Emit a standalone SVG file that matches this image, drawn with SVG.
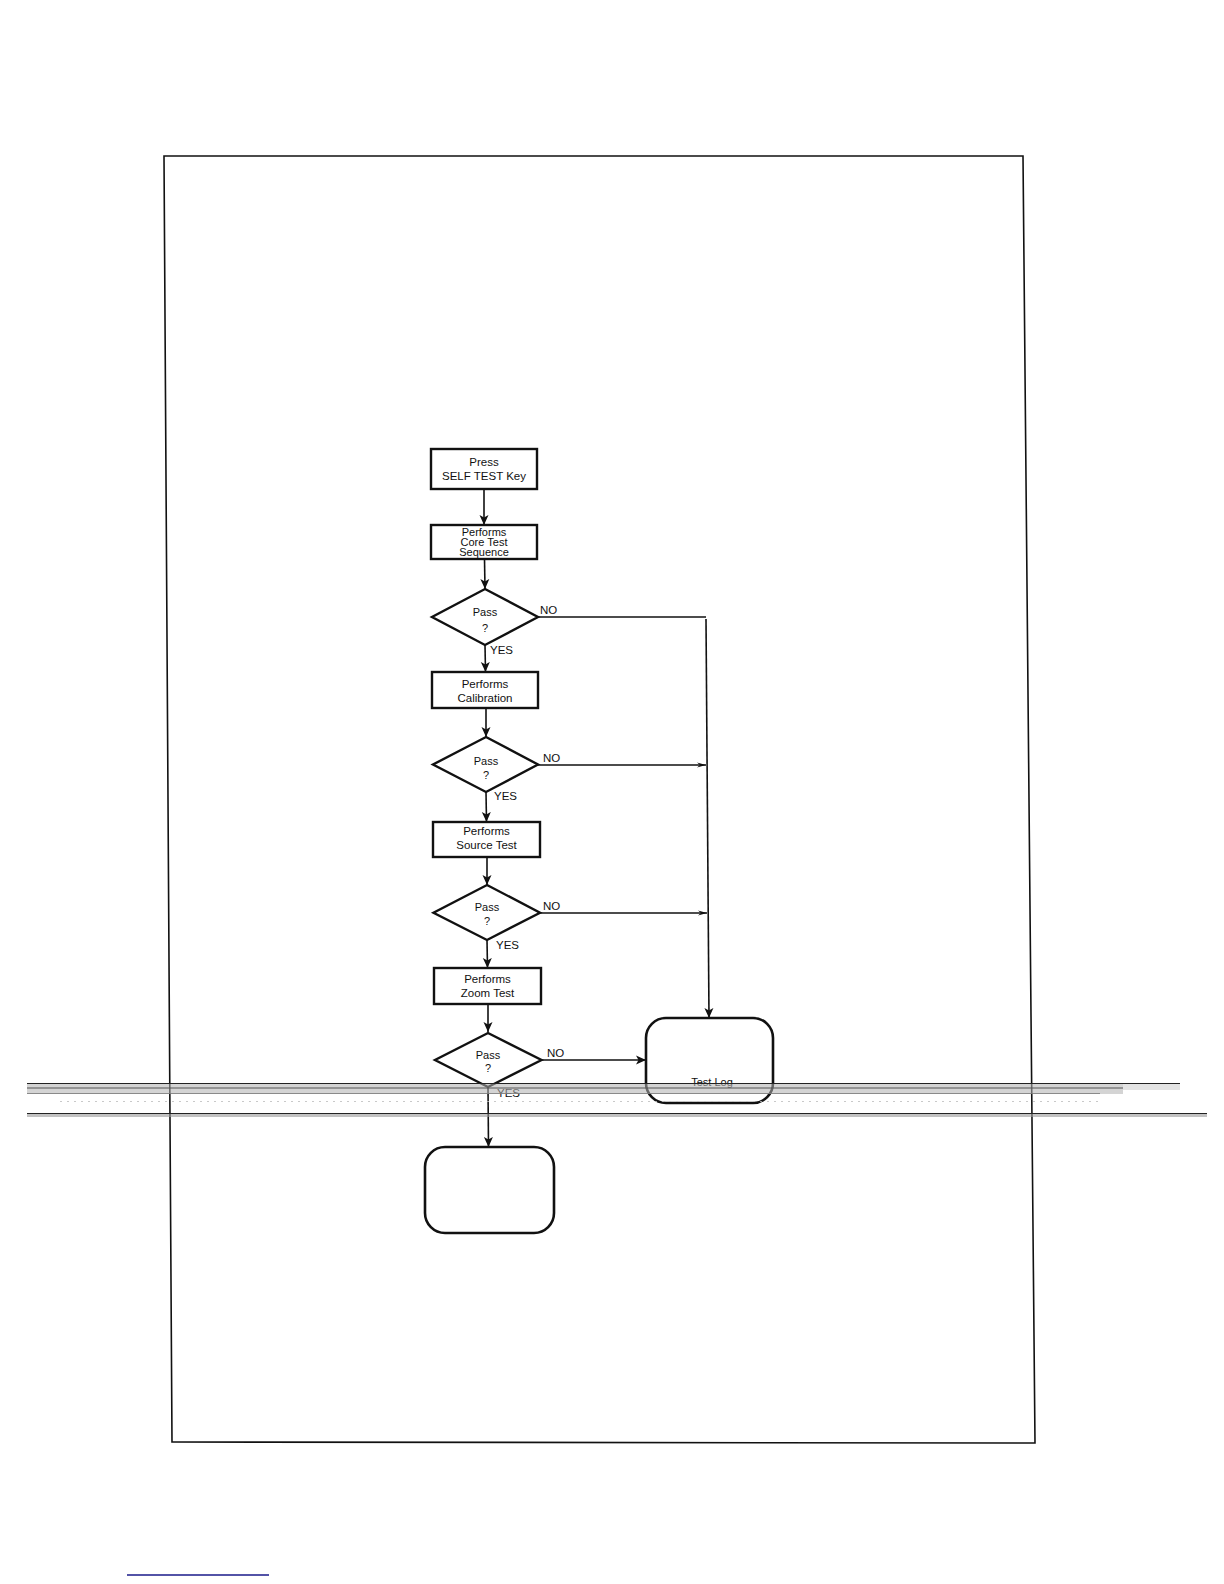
<svg xmlns="http://www.w3.org/2000/svg" width="1224" height="1584" viewBox="0 0 1224 1584">
<defs>
<marker id="arr" markerUnits="userSpaceOnUse" markerWidth="10" markerHeight="10" viewBox="0 0 10 10" refX="10" refY="5" orient="auto">
<path d="M0,0.5 L10,5 L0,9.5 L2.5,5 Z" fill="#111"/>
</marker>
<marker id="arrs" markerUnits="userSpaceOnUse" markerWidth="9" markerHeight="6" viewBox="0 0 9 6" refX="9" refY="3" orient="auto">
<path d="M0,0.5 L9,3 L0,5.5 L3,3 Z" fill="#111"/>
</marker>
</defs>
<style>
.box{fill:#fff;stroke:#111;stroke-width:2.4}
.rbox{fill:none;stroke:#111;stroke-width:2.6}
.dia{fill:#fff;stroke:#111;stroke-width:2.4;stroke-linejoin:miter}
.t{font-family:"Liberation Sans","DejaVu Sans",sans-serif;font-size:11.5px;fill:#111;text-anchor:middle}
.ts{font-family:"Liberation Sans","DejaVu Sans",sans-serif;font-size:11px;fill:#111;text-anchor:middle}
.lb{font-family:"Liberation Sans","DejaVu Sans",sans-serif;font-size:11.5px;fill:#111}
.c{fill:none;stroke:#111;stroke-width:1.6}
.ce{fill:none;stroke:#111;stroke-width:1.6;marker-end:url(#arr)}
.cs{fill:none;stroke:#111;stroke-width:1.6;marker-end:url(#arrs)}
</style>
<rect width="1224" height="1584" fill="#fff"/>
<g id="frame">
<polygon points="164,156 1023,156 1035,1443 172,1442" fill="none" stroke="#111" stroke-width="1.6"/>
</g>
<g id="connectors">
<line class="ce" x1="484" y1="489" x2="484" y2="525"/>
<line class="ce" x1="484.5" y1="559" x2="485" y2="589"/>
<line class="ce" x1="485" y1="645" x2="485.5" y2="672"/>
<line class="ce" x1="486" y1="708" x2="486" y2="737"/>
<line class="ce" x1="486" y1="792" x2="486.5" y2="822"/>
<line class="ce" x1="487" y1="857" x2="487" y2="885"/>
<line class="ce" x1="487" y1="940" x2="487.5" y2="968"/>
<line class="ce" x1="488" y1="1004" x2="488" y2="1032"/>
<line class="ce" x1="488" y1="1087" x2="488.5" y2="1147"/>
<polyline class="c" points="538,617 706,617"/>
<line class="ce" x1="706" y1="619" x2="709" y2="1018"/>
<line class="cs" x1="538" y1="765" x2="706" y2="765"/>
<line class="cs" x1="540" y1="913" x2="707" y2="913"/>
<line class="ce" x1="542" y1="1060" x2="646" y2="1060"/>
</g>
<g id="n-press">
<rect class="box" x="431" y="449" width="106" height="40"/>
<text class="t" x="484" y="466">Press</text>
<text class="t" x="484" y="479.5">SELF TEST Key</text>
</g>
<g id="n-core">
<rect class="box" x="431" y="525" width="106" height="34"/>
<text class="ts" x="484" y="535.5">Performs</text>
<text class="ts" x="484" y="546">Core Test</text>
<text class="ts" x="484" y="556">Sequence</text>
</g>
<g id="d1">
<polygon class="dia" points="485,589 538,617 485,645 432,617"/>
<text class="ts" x="485" y="615.5">Pass</text>
<text class="ts" x="485" y="632">?</text>
<text class="lb" x="540" y="614">NO</text>
<text class="lb" x="490" y="654">YES</text>
</g>
<g id="n-cal">
<rect class="box" x="432" y="672" width="106" height="36"/>
<text class="t" x="485" y="687.5">Performs</text>
<text class="t" x="485" y="701.5">Calibration</text>
</g>
<g id="d2">
<polygon class="dia" points="486,737 538,764.5 486,792 433,764.5"/>
<text class="ts" x="486" y="765">Pass</text>
<text class="ts" x="486" y="779">?</text>
<text class="lb" x="543" y="761.5">NO</text>
<text class="lb" x="494" y="800">YES</text>
</g>
<g id="n-src">
<rect class="box" x="433" y="822" width="107" height="35"/>
<text class="t" x="486.5" y="835">Performs</text>
<text class="t" x="486.5" y="848.5">Source Test</text>
</g>
<g id="d3">
<polygon class="dia" points="487,885 540,912.7 487,940 433.5,912.7"/>
<text class="ts" x="487" y="911">Pass</text>
<text class="ts" x="487" y="925">?</text>
<text class="lb" x="543" y="909.5">NO</text>
<text class="lb" x="496" y="949">YES</text>
</g>
<g id="n-zoom">
<rect class="box" x="434" y="968" width="107" height="36"/>
<text class="t" x="487.5" y="983">Performs</text>
<text class="t" x="487.5" y="997">Zoom Test</text>
</g>
<g id="d4">
<polygon class="dia" points="488,1033 541.5,1060 488,1087 435,1060"/>
<text class="ts" x="488" y="1059">Pass</text>
<text class="ts" x="488" y="1072">?</text>
<text class="lb" x="547" y="1057">NO</text>
<text class="lb" x="497" y="1097">YES</text>
</g>
<g id="n-testlog">
<rect class="rbox" x="646" y="1018" width="127" height="85" rx="20" ry="20"/>
<text class="ts" x="712" y="1086">Test Log</text>
</g>
<g id="n-end">
<rect class="rbox" x="425" y="1147" width="129" height="86" rx="20" ry="20"/>
</g>
<g id="scan-streaks">
<rect x="27" y="1084" width="1096" height="10" fill="#b0b0b0" opacity="0.55"/>
<rect x="1123" y="1084" width="57" height="6" fill="#d0d0d0" opacity="0.6"/>
<line x1="27" y1="1083.5" x2="1180" y2="1083.5" stroke="#222" stroke-width="1"/>
<line x1="27" y1="1088" x2="1123" y2="1088" stroke="#555" stroke-width="1"/>
<line x1="27" y1="1093.5" x2="1100" y2="1093.5" stroke="#777" stroke-width="0.8"/>
<line x1="60" y1="1101.5" x2="1100" y2="1101.5" stroke="#bbb" stroke-width="0.8" stroke-dasharray="2 5"/>
<line x1="27" y1="1113.5" x2="1207" y2="1113.5" stroke="#222" stroke-width="1.2"/>
<rect x="27" y="1114" width="1180" height="3" fill="#999" opacity="0.6"/>
</g>
<g id="footer">
<line x1="127" y1="1575" x2="269" y2="1575" stroke="#1a1a8a" stroke-width="1.5"/>
</g>
</svg>
